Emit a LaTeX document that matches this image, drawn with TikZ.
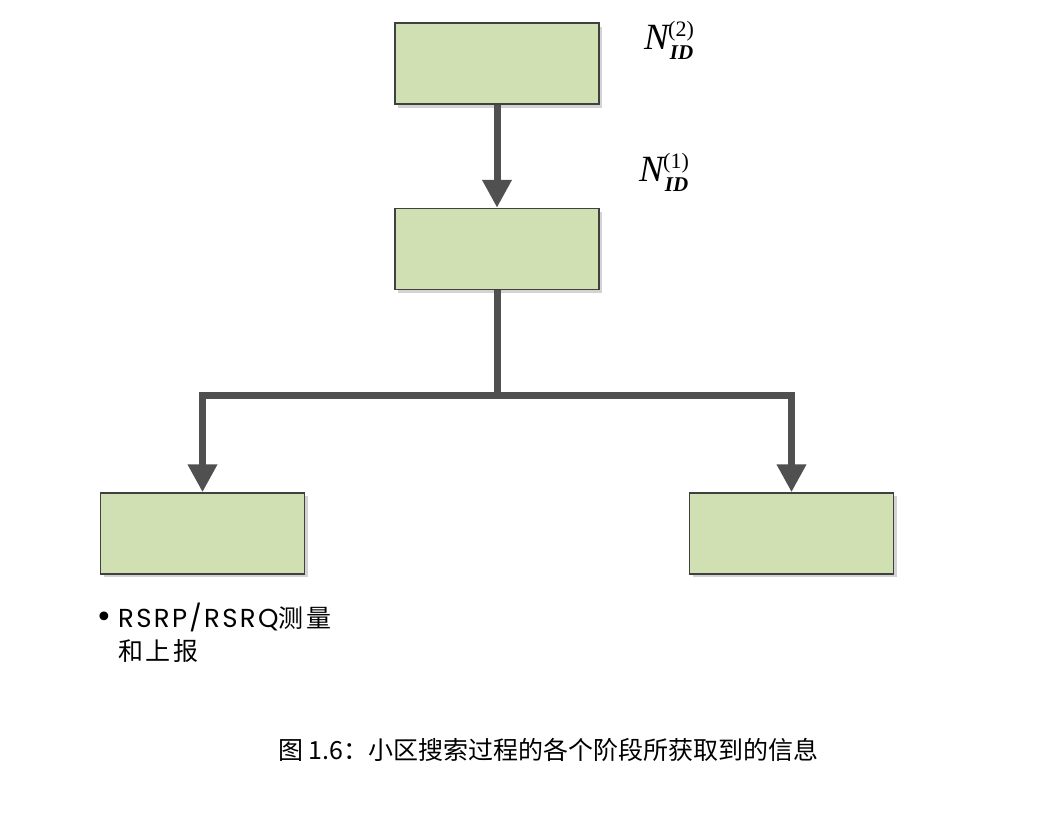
\documentclass[tikz,border=0pt]{standalone}
\usepackage{fontspec}
\usetikzlibrary{arrows.meta}
\newfontfamily\cjk{Noto Sans CJK SC}
\newfontfamily\cjkwide[LetterSpace=10]{Noto Sans CJK SC}
\newfontfamily\lat[LetterSpace=9]{Poppins}
\newfontfamily\dv{DejaVu Sans}
\newfontfamily\tms{Liberation Serif}
\definecolor{boxfill}{HTML}{D1E0B3}
\definecolor{boxdraw}{HTML}{404040}
\definecolor{conn}{HTML}{505050}
\definecolor{shade}{HTML}{D3D3D3}
\tikzset{
  stagebox/.style={draw=boxdraw, line width=1.5pt, fill=boxfill, minimum width=204pt, minimum height=81pt, inner sep=0pt},
  shadowbox/.style={fill=shade, minimum width=204pt, minimum height=81pt, inner sep=0pt},
  connector/.style={draw=conn, line width=7pt},
  tip/.style={-{Triangle[width=28pt,length=28pt]}},
  idlabel/.style={inner sep=0pt, anchor=west},
}
\newcommand{\nid}[1]{\tms\fontsize{37}{37}\selectfont\itshape N\kern1pt\raisebox{-10pt}{\fontsize{21}{21}\selectfont\bfseries\itshape ID}\kern-25pt\raisebox{13pt}{\fontsize{22}{22}\selectfont\upshape (#1)}}
\begin{document}
\begin{tikzpicture}[x=1pt,y=-1pt]
\useasboundingbox (0,0) rectangle (1060,831);
% shadows
\node[shadowbox] at (500,67) {};
\node[shadowbox] at (500,252) {};
\node[shadowbox] at (205.5,536.5) {};
\node[shadowbox] at (794.5,536.5) {};
% boxes
\node[stagebox] (b1) at (497,63.5) {};
\node[stagebox] (b2) at (497,249) {};
\node[stagebox] (b3) at (202.5,533.5) {};
\node[stagebox] (b4) at (791.5,533.5) {};
% connectors
\coordinate (j) at (497,395);
\draw[connector,tip] (b1.south) -- (b2.north);
\draw[connector] (b2.south) -- (j);
\draw[connector,tip,line join=miter] (j) -| (b3.north);
\draw[connector,tip,line join=miter] (j) -| (b4.north);
% labels
\node[idlabel] (l2) at (644,40) {\nid{2}};
\node[idlabel] (l1) at (639,172) {\nid{1}};
% bullet text
\node[anchor=center, inner sep=0pt, font={\dv\fontsize{30}{30}\selectfont}] (bul) at (104,620) {•};
\node[anchor=north west, inner sep=0pt, align=left, font={\cjkwide\fontsize{25}{33}\selectfont}] (txt) at (118,603) {{\lat\fontsize{26}{33}\selectfont RSRP/RSRQ}测量\\和上报};
% caption
\node[anchor=west, inner sep=0pt, font={\cjk\fontsize{25}{25}\selectfont}] (cap) at (278,750) {图 1.6：小区搜索过程的各个阶段所获取到的信息};
\end{tikzpicture}
\end{document}
